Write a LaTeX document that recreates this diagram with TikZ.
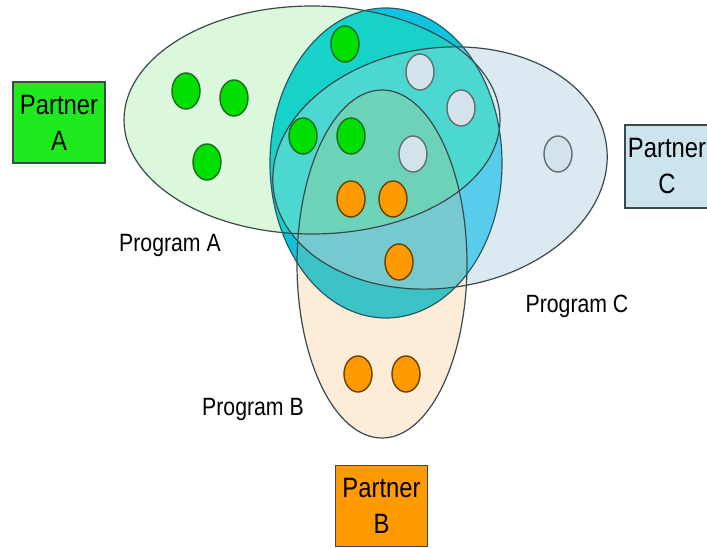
\documentclass[tikz,border=0pt]{standalone}
\usepackage{fontspec}
\usetikzlibrary{shapes.geometric}
\newfontfamily\lblfont{Liberation Sans}[FakeStretch=0.85]
\definecolor{progA}{HTML}{DCF8DC}
\definecolor{progB}{HTML}{FCECD8}
\definecolor{progC}{HTML}{DDE9F0}
\definecolor{core}{HTML}{10C4E0}
\definecolor{tintA}{HTML}{28FF82}
\definecolor{tintB}{HTML}{ECC060}
\definecolor{tintC}{HTML}{B4D7FA}
\definecolor{rim}{HTML}{3A4A4C}
\definecolor{corerim}{HTML}{245C68}
\definecolor{dotG}{HTML}{00E000}
\definecolor{dotGrim}{HTML}{1A6A1A}
\definecolor{dotO}{HTML}{FF9A00}
\definecolor{dotOrim}{HTML}{6A4000}
\definecolor{dotC}{HTML}{D4E2EA}
\definecolor{dotCrim}{HTML}{5F6F70}
\definecolor{boxA}{HTML}{1EEA1E}
\definecolor{boxB}{HTML}{FF9A00}
\definecolor{boxC}{HTML}{CCE4EE}
\begin{document}
\begin{tikzpicture}[x=1pt,y=-1pt,
  outl/.style={draw=rim,line width=1.2pt},
  dot/.style={ellipse,minimum width=28pt,minimum height=36pt,inner sep=0pt,line width=1.4pt},
  gdot/.style={dot,draw=dotGrim,fill=dotG},
  odot/.style={dot,draw=dotOrim,fill=dotO},
  cdot/.style={dot,draw=dotCrim,fill=dotC},
  partner/.style={draw=rim,line width=1.2pt,minimum width=92pt,minimum height=81pt,align=center,inner sep=0pt,font=\lblfont\fontsize{28}{36}\selectfont},
  prog/.style={font=\lblfont\fontsize{25}{30}\selectfont}]
  \fill[white] (0,0) rectangle (707,548);
  \useasboundingbox (0,0) rectangle (707,548);
  % program fills
  \fill[progA] (312,120) ellipse [x radius=188,y radius=114];
  \fill[progC,rotate around={8:(440,168)}] (440,168) ellipse [x radius=168,y radius=120];
  \fill[progB] (382,264) ellipse [x radius=85,y radius=174];
  \fill[core] (386,163) ellipse [x radius=116,y radius=155];
  % tints inside the shared core
  \begin{scope}
    \clip (386,163) ellipse [x radius=116,y radius=155];
    \fill[tintC,fill opacity=.45,rotate around={8:(440,168)}] (440,168) ellipse [x radius=168,y radius=120];
    \fill[tintA,fill opacity=.25] (312,120) ellipse [x radius=188,y radius=114];
    \fill[tintB,fill opacity=.2] (382,264) ellipse [x radius=85,y radius=174];
  \end{scope}
  % outlines
  \draw[outl] (312,120) ellipse [x radius=188,y radius=114];
  \draw[outl,rotate around={8:(440,168)}] (440,168) ellipse [x radius=168,y radius=120];
  \draw[outl] (382,264) ellipse [x radius=85,y radius=174];
  \draw[outl,draw=corerim] (386,163) ellipse [x radius=116,y radius=155];
  % members
  \foreach \x/\y [count=\i] in {186/91,234/98,207/162,345/44,303/136,351/136}
    \node[gdot] (g\i) at (\x,\y) {};
  \foreach \x/\y [count=\i] in {420/72,461/108,413/154,558/154}
    \node[cdot] (c\i) at (\x,\y) {};
  \foreach \x/\y [count=\i] in {351/199,393/199,399/262,358/374,406/374}
    \node[odot] (o\i) at (\x,\y) {};
  % labels
  \node[prog] (progA) at (170,245) {Program A};
  \node[prog] (progB) at (253,409) {Program B};
  \node[prog] (progC) at (577,306) {Program C};
  \node[partner,fill=boxA] (partA) at (59,122.5) {Partner\\A};
  \node[partner,fill=boxB] (partB) at (381.5,506) {Partner\\B};
  \node[partner,fill=boxC,minimum width=84pt,minimum height=83pt] (partC) at (667,166.5) {Partner\\C};
\end{tikzpicture}
\end{document}
